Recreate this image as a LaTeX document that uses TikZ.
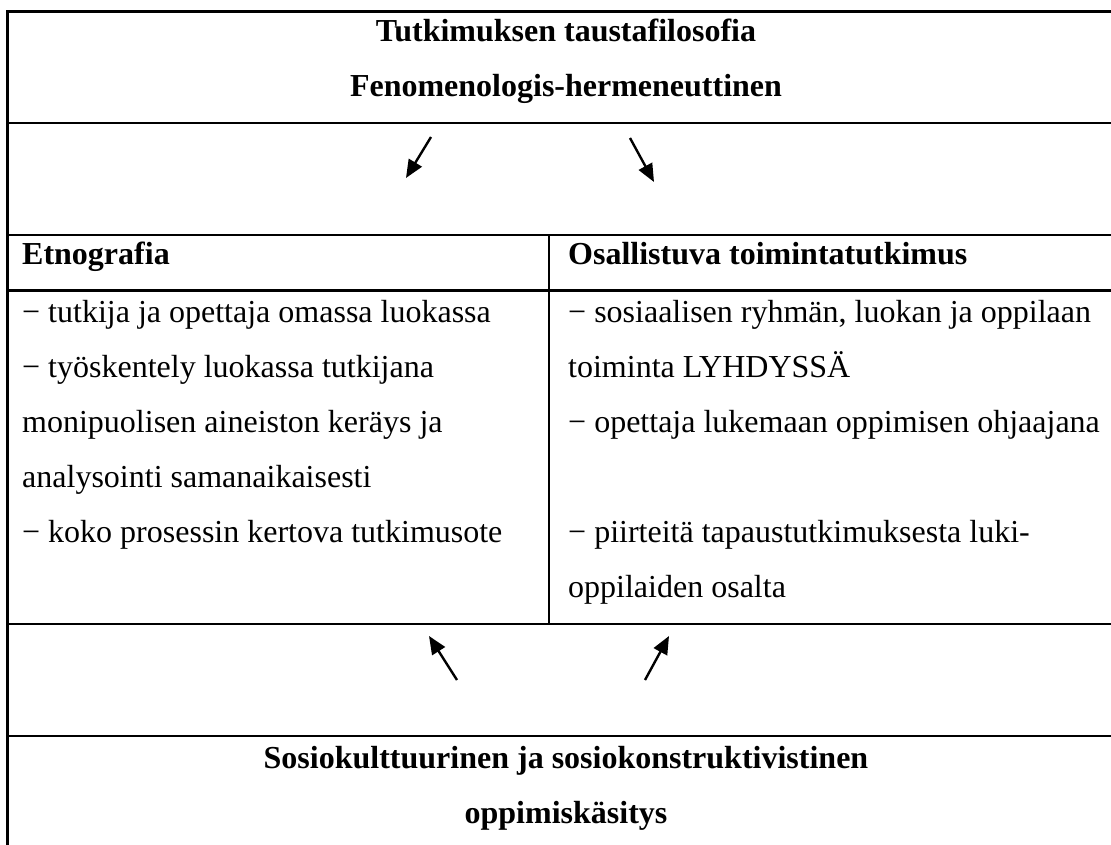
\documentclass[tikz,border=0pt]{standalone}
\usepackage{fontspec}
\setmainfont{Liberation Serif}
\usetikzlibrary{arrows.meta}
\begin{document}
\begin{tikzpicture}[x=1pt,y=-1pt,
  rule/.style={line width=2.6pt, line cap=rect},
  txt/.style={inner sep=0pt, anchor=base west, font=\fontsize{32}{55}\selectfont},
  head/.style={inner sep=0pt, anchor=base, font=\fontsize{32}{55}\selectfont\bfseries},
  colhead/.style={inner sep=0pt, anchor=base west, font=\fontsize{32}{55}\selectfont\bfseries},
  arr/.style={line width=2.4pt, -{Triangle[length=18pt,width=15pt]}}]
\useasboundingbox (0,0) rectangle (1111,845);
\fill[white] (0,0) rectangle (1111,845);
% table rules
\draw[rule] (7.5,845) -- (7.5,11.7) -- (1111,11.7);
\draw[rule] (7.5,123) -- (1111,123);
\draw[rule] (7.5,235) -- (1111,235);
\draw[rule] (7.5,290.7) -- (1111,290.7);
\draw[rule] (549,235) -- (549,624);
\draw[rule] (7.5,624) -- (1111,624);
\draw[rule] (7.5,736) -- (1111,736);
% top header
\node[head] (t1) at (566,42) {Tutkimuksen taustafilosofia};
\node[head] (t2) at (566,97) {Fenomenologis-hermeneuttinen};
% column headers
\node[colhead] (h1) at (22,265) {Etnografia};
\node[colhead] (h2) at (568,265) {Osallistuva toimintatutkimus};
% left column
\node[txt] (l1) at (22,322) {− tutkija ja opettaja omassa luokassa};
\node[txt] (l2) at (22,377) {− työskentely luokassa tutkijana};
\node[txt] (l3) at (22,432) {monipuolisen aineiston keräys ja};
\node[txt] (l4) at (22,487) {analysointi samanaikaisesti};
\node[txt] (l5) at (22,542) {− koko prosessin kertova tutkimusote};
% right column
\node[txt] (r1) at (568,322) {− sosiaalisen ryhmän, luokan ja oppilaan};
\node[txt] (r2) at (568,377) {toiminta LYHDYSSÄ};
\node[txt] (r3) at (568,432) {− opettaja lukemaan oppimisen ohjaajana};
\node[txt] (r4) at (568,542) {− piirteitä tapaustutkimuksesta luki-};
\node[txt] (r5) at (568,597) {oppilaiden osalta};
% bottom header
\node[head] (b1) at (566,768) {Sosiokulttuurinen ja sosiokonstruktivistinen};
\node[head] (b2) at (566,823) {oppimiskäsitys};
% arrows
\coordinate (a1s) at (431,137); \coordinate (a1e) at (406,178);
\coordinate (a2s) at (630,138); \coordinate (a2e) at (654,182);
\coordinate (a3s) at (457,680); \coordinate (a3e) at (429,636);
\coordinate (a4s) at (645,680); \coordinate (a4e) at (669,636);
\draw[arr] (a1s) -- (a1e);
\draw[arr] (a2s) -- (a2e);
\draw[arr] (a3s) -- (a3e);
\draw[arr] (a4s) -- (a4e);
\end{tikzpicture}
\end{document}
